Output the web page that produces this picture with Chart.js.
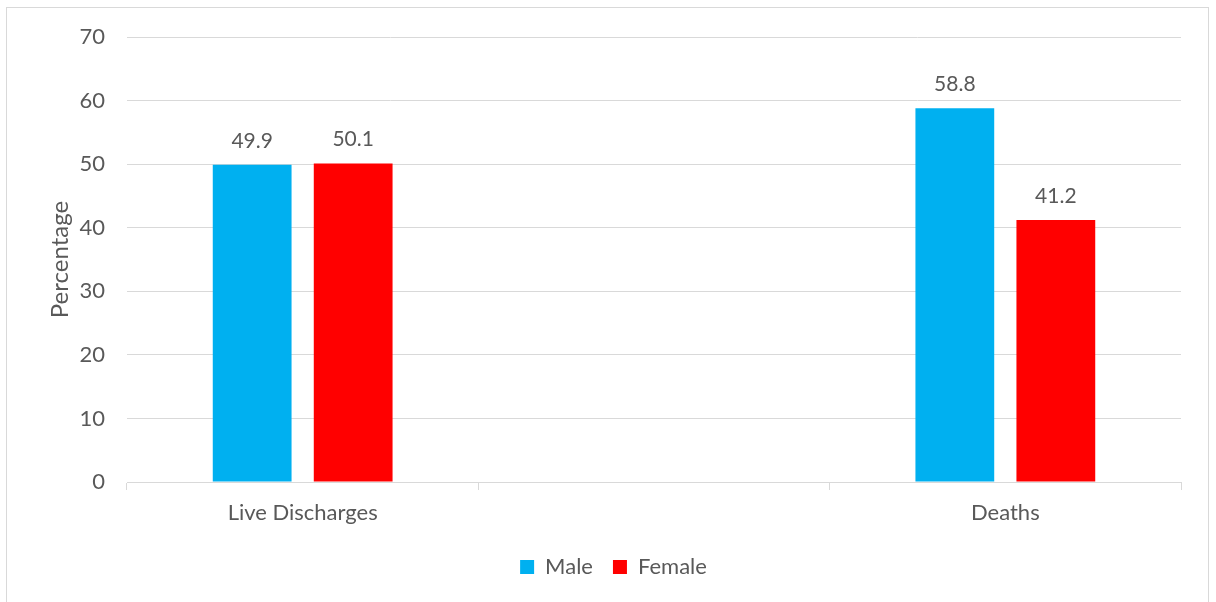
<!DOCTYPE html>
<html>
<head>
<meta charset="utf-8">
<script src="https://cdn.jsdelivr.net/npm/chart.js@4/dist/chart.umd.min.js"></script>
<style>
  html, body { margin: 0; padding: 0; background: #ffffff; overflow: hidden; }
  #frame { position: absolute; left: 6px; top: 7px; width: 1203px; height: 620px; border: 1px solid #d9d9d9; box-sizing: border-box; }
  #wrap { position: absolute; left: 0; top: 0; width: 1216px; height: 602px; }
</style>
</head>
<body>
<div id="frame"></div>
<div id="wrap"><canvas id="chart" width="1216" height="602"></canvas></div>
<script>
// Outcome categories (the middle slot is an empty spacer category)
const categories = ['Live Discharges', '', 'Deaths'];
const maleValues = [49.9, null, 58.8];
const femaleValues = [50.1, null, 41.2];
const yTicks = [0, 10, 20, 30, 40, 50, 60, 70];

const FONT = 'Lato, "Open Sans", sans-serif';
const TEXT = '#595959';
const GRID = '#d9d9d9';

// Value labels above each bar
const valueLabels = {
  id: 'valueLabels',
  afterDatasetsDraw(chart) {
    const ctx = chart.ctx;
    ctx.save();
    ctx.font = '21px ' + FONT;
    ctx.fillStyle = TEXT;
    ctx.textAlign = 'center';
    ctx.textBaseline = 'middle';
    chart.data.datasets.forEach((ds, i) => {
      const meta = chart.getDatasetMeta(i);
      meta.data.forEach((bar, j) => {
        const v = ds.data[j];
        if (v === null || v === undefined) return;
        ctx.fillText(v.toFixed(1), bar.x, bar.y - 24);
      });
    });
    ctx.restore();
  }
};

new Chart(document.getElementById('chart'), {
  type: 'bar',
  data: {
    labels: categories,
    datasets: [
      { label: 'Male', data: maleValues, backgroundColor: '#00B0F0' },
      { label: 'Female', data: femaleValues, backgroundColor: '#FF0000' }
    ]
  },
  options: {
    responsive: false,
    animation: false,
    devicePixelRatio: 1,
    categoryPercentage: 0.575,
    barPercentage: 0.78,
    layout: { padding: { left: 46, right: 35, top: 37, bottom: 14 } },
    plugins: {
      legend: {
        position: 'bottom',
        labels: {
          font: { family: FONT, size: 22 },
          color: TEXT,
          boxWidth: 14,
          boxHeight: 14,
          padding: 20
        }
      },
      tooltip: { enabled: false }
    },
    scales: {
      x: {
        offset: true,
        grid: { display: true, drawOnChartArea: false, drawTicks: true, tickLength: 8, offset: true, color: GRID },
        border: { display: true, color: GRID, width: 1 },
        ticks: { font: { family: FONT, size: 22 }, color: TEXT, padding: 10, maxRotation: 0 },
        afterFit(scale) { scale.height = 54; }
      },
      y: {
        min: 0,
        max: 70,
        afterBuildTicks(scale) { scale.ticks = yTicks.map(v => ({ value: v })); },
        grid: { color: GRID, drawTicks: false },
        border: { display: false },
        ticks: { font: { family: FONT, size: 22 }, color: TEXT, padding: 22 },
        title: { display: true, text: 'Percentage', font: { family: FONT, size: 24 }, color: TEXT, padding: 0 },
        afterFit(scale) { scale.width = 81; }
      }
    }
  },
  plugins: [valueLabels]
});
</script>
</body>
</html>
